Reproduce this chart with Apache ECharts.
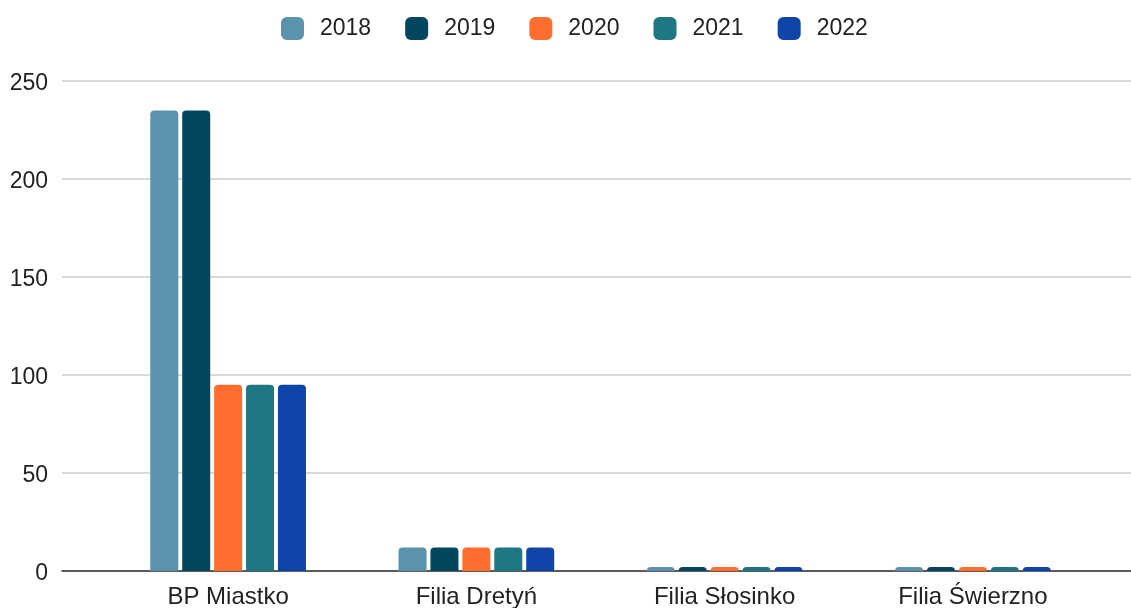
<!DOCTYPE html>
<html>
<head>
<meta charset="utf-8">
<script src="https://cdn.jsdelivr.net/npm/echarts@6/dist/echarts.min.js"></script>
<style>
  html, body { margin: 0; padding: 0; background: #fff; }
  #chart { width: 1131px; height: 608px; }
</style>
</head>
<body>
<div id="chart"></div>
<script>
// dane
const categories = ['BP Miastko', 'Filia Dretyń', 'Filia Słosinko', 'Filia Świerzno']
const years = ['2018', '2019', '2020', '2021', '2022']
const values2018 = [235, 12, 2, 2]
const values2019 = [235, 12, 2, 2]
const values2020 = [95, 12, 2, 2]
const values2021 = [95, 12, 2, 2]
const values2022 = [95, 12, 2, 2]
const yTicks = [0, 50, 100, 150, 200, 250]

const colors = ['#5b92ae', '#03465f', '#ff6d2f', '#1e7783', '#0f45a8']
const font = 'Liberation Sans, Arial, sans-serif'

const chart = echarts.init(document.getElementById('chart'))

const seriesData = [values2018, values2019, values2020, values2021, values2022]
const series = seriesData.map((data, i) => ({
  name: years[i],
  type: 'bar',
  xAxisIndex: 1,
  yAxisIndex: 1,
  barWidth: 28,
  barGap: '14%',
  itemStyle: { color: colors[i], borderRadius: [4, 4, 0, 0] },
  data,
}))

const option = {
  color: colors,
  textStyle: { fontFamily: font },
  legend: {
    data: years,
    top: 12,
    left: 276,
    itemWidth: 23,
    itemHeight: 23,
    itemGap: 34,
    icon: 'roundRect',
    textStyle: { fontSize: 23, color: '#222', padding: [0, 0, 0, 11], fontFamily: font },
  },
  grid: [
    // siatka i osie (pełna szerokość)
    { left: 62, right: 0, top: 81, bottom: 37, outerBoundsMode: 'none' },
    // słupki
    { left: 104, right: 34, top: 81, bottom: 37, outerBoundsMode: 'none' },
  ],
  xAxis: [
    {
      gridIndex: 0,
      type: 'category',
      data: categories,
      axisLine: { lineStyle: { color: '#333', width: 1.5 } },
      axisTick: { show: false },
      axisLabel: { show: false },
    },
    {
      gridIndex: 1,
      type: 'category',
      data: categories,
      axisLine: { show: false },
      axisTick: { show: false },
      axisLabel: { fontSize: 24, color: '#222', margin: 14, fontFamily: font },
    },
  ],
  yAxis: [
    {
      gridIndex: 0,
      type: 'value',
      min: yTicks[0],
      max: yTicks[yTicks.length - 1],
      interval: 50,
      axisLine: { show: false },
      axisTick: { show: false },
      axisLabel: {
        margin: 14,
        formatter: '{a|{value}}',
        rich: {
          a: { fontSize: 23, color: '#222', fontFamily: font, padding: [6, 0, 0, 0] },
        },
      },
      splitLine: { lineStyle: { color: '#cccccc', width: 1.5 } },
    },
    {
      gridIndex: 1,
      type: 'value',
      min: yTicks[0],
      max: yTicks[yTicks.length - 1],
      interval: 50,
      show: false,
      splitLine: { show: false },
    },
  ],
  series,
}

chart.setOption(option)
</script>
</body>
</html>
